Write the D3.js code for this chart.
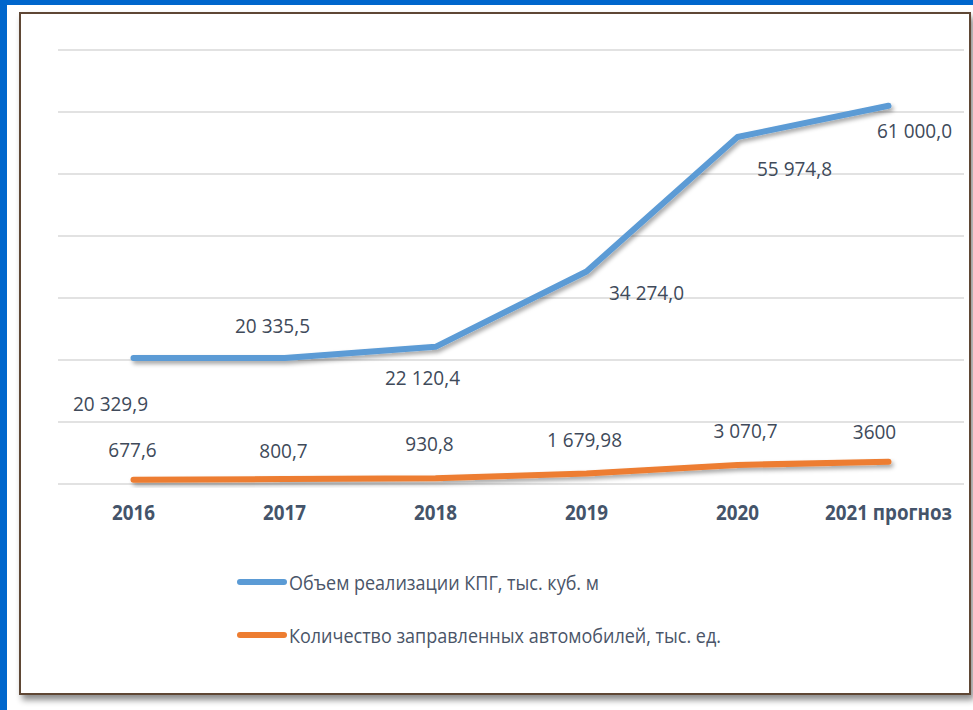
<!DOCTYPE html>
<html><head><meta charset="utf-8">
<script src="https://cdn.jsdelivr.net/npm/d3@7"></script>
<style>html,body{margin:0;padding:0;background:#fff;}svg{display:block;}</style>
</head><body>
<svg id="c" width="973" height="710"></svg>
<script>
const years = ["2016","2017","2018","2019","2020","2021 прогноз"];
const cpgValues = [20329.9, 20335.5, 22120.4, 34274.0, 55974.8, 61000.0];
const carValues = [677.6, 800.7, 930.8, 1679.98, 3070.7, 3600];
const cpgLabels = ["20 329,9","20 335,5","22 120,4","34 274,0","55 974,8","61 000,0"];
const carLabels = ["677,6","800,7","930,8","1 679,98","3 070,7","3600"];
const seriesNames = ["Объем реализации КПГ, тыс. куб. м","Количество заправленных автомобилей, тыс. ед."];
const yTicks = [0,10000,20000,30000,40000,50000,60000,70000];
// label offsets (px) relative to each point
const cpgOffsets = [[-23,45],[-12,-33],[-13,30],[60,21],[57,31],[26,25]];
const carOffsets = [[-1,-30],[-1,-29],[-6,-35],[-2,-34],[8,-35],[-14,-30]];

const svg = d3.select("#c");
const defs = svg.append("defs");
const f1 = defs.append("filter").attr("id","panelShadow").attr("x","-5%").attr("y","-5%").attr("width","115%").attr("height","115%");
f1.append("feDropShadow").attr("dx",3).attr("dy",5).attr("stdDeviation",3).attr("flood-color","#000").attr("flood-opacity",0.45);
const f2 = defs.append("filter").attr("id","lineShadow").attr("x","-5%").attr("y","-20%").attr("width","115%").attr("height","160%");
f2.append("feDropShadow").attr("dx",2).attr("dy",3).attr("stdDeviation",2).attr("flood-color","#000").attr("flood-opacity",0.35);

svg.append("rect").attr("width",973).attr("height",710).attr("fill","#0066cc");
svg.append("rect").attr("x",7).attr("y",5).attr("width",966).attr("height",705).attr("fill","#fff");
svg.append("rect").attr("x",20).attr("y",13).attr("width",950).attr("height",681)
  .attr("fill","#fff").attr("stroke","#5e4636").attr("stroke-width",2).attr("filter","url(#panelShadow)");

const x = d3.scaleBand().domain(years).range([58,964]);
const cx = d => x(d) + x.bandwidth()/2;
const y = d3.scaleLinear().domain([0,70000]).range([484,50]);

svg.append("g").selectAll("line").data(yTicks).join("line")
  .attr("x1",58).attr("x2",964).attr("y1",d=>y(d)).attr("y2",d=>y(d))
  .attr("stroke","#d9d9d9").attr("stroke-width",1.3);

const line = d3.line().x((d,i)=>cx(years[i])).y(d=>y(d));
[[cpgValues,"#5b9bd5"],[carValues,"#ed7d31"]].forEach(([vals,col])=>{
  svg.append("path").attr("d",line(vals)).attr("fill","none").attr("stroke",col)
    .attr("stroke-width",6).attr("stroke-linecap","round").attr("stroke-linejoin","round")
    .attr("filter","url(#lineShadow)");
});

function label(txt, px, py, opts){
  const g = svg.append("g").attr("transform",`translate(${px},${py}) scale(1,${opts.sy||1.05})`);
  g.append("text").text(txt).attr("text-anchor",opts.anchor||"middle").attr("dominant-baseline","central")
    .attr("font-family","'Open Sans', 'Noto Sans', sans-serif").attr("font-size",opts.size)
    .attr("font-weight",opts.weight||"normal").attr("fill",opts.fill);
}
cpgValues.forEach((v,i)=>label(cpgLabels[i], cx(years[i])+cpgOffsets[i][0], y(v)+cpgOffsets[i][1], {size:19, fill:"#404a5a"}));
carValues.forEach((v,i)=>label(carLabels[i], cx(years[i])+carOffsets[i][0], y(v)+carOffsets[i][1], {size:19, fill:"#404a5a"}));

years.forEach(yr=>label(yr, cx(yr), 512, {size:18.8, weight:"bold", fill:"#44546a", sy:1.1}));

const legY = [582, 635];
const cols = ["#5b9bd5","#ed7d31"];
seriesNames.forEach((n,i)=>{
  svg.append("line").attr("x1",240).attr("x2",284).attr("y1",legY[i]).attr("y2",legY[i])
    .attr("stroke",cols[i]).attr("stroke-width",6).attr("stroke-linecap","round");
  label(n, 289, legY[i], {size:18, fill:"#4a5568", anchor:"start", sy:1.08});
});
</script>
</body></html>
